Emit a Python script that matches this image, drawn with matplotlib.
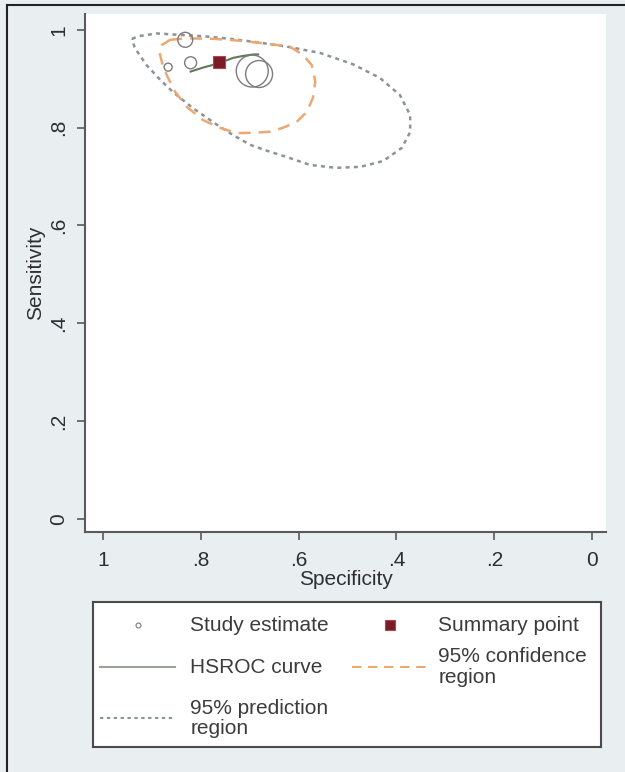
"""HSROC summary plot: study estimates, summary point and 95% regions."""

import matplotlib
matplotlib.use("Agg")
import matplotlib.pyplot as plt
from matplotlib.lines import Line2D

# ── Data ──────────────────────────────────────────────────────────────

study_spec = [0.832, 0.821, 0.867, 0.695, 0.681]
study_sens = [0.980, 0.933, 0.924, 0.916, 0.910]
study_weight = [56, 36, 16, 256, 182]

summary_spec = [0.763]
summary_sens = [0.934]

hsroc_spec = [0.821, 0.796, 0.763, 0.734, 0.714, 0.693, 0.683]
hsroc_sens = [0.915, 0.923, 0.932, 0.943, 0.947, 0.950, 0.950]

conf_spec = [0.863, 0.829, 0.775, 0.720, 0.673, 0.618, 0.591, 0.573, 0.566,
             0.571, 0.583, 0.604, 0.632, 0.658, 0.686, 0.727, 0.761, 0.796,
             0.829, 0.853, 0.870, 0.880, 0.885, 0.880, 0.863]
conf_sens = [0.980, 0.983, 0.982, 0.978, 0.973, 0.966, 0.949, 0.928, 0.894,
             0.861, 0.833, 0.812, 0.800, 0.792, 0.790, 0.789, 0.800, 0.816,
             0.843, 0.874, 0.908, 0.935, 0.956, 0.969, 0.980]

pred_spec = [0.941, 0.924, 0.890, 0.843, 0.791, 0.740, 0.685, 0.618, 0.556,
             0.489, 0.434, 0.393, 0.372, 0.372, 0.389, 0.427, 0.474, 0.524,
             0.577, 0.624, 0.665, 0.699, 0.734, 0.767, 0.816, 0.857, 0.883,
             0.911, 0.935, 0.941]
pred_sens = [0.982, 0.988, 0.993, 0.990, 0.987, 0.982, 0.975, 0.965, 0.953,
             0.930, 0.902, 0.867, 0.826, 0.791, 0.759, 0.732, 0.720, 0.718,
             0.724, 0.740, 0.753, 0.765, 0.785, 0.806, 0.840, 0.873, 0.898,
             0.928, 0.963, 0.982]

tick_values = [0, 0.2, 0.4, 0.6, 0.8, 1]
tick_labels = ["0", ".2", ".4", ".6", ".8", "1"]

legend_labels = ["Study estimate", "Summary point", "HSROC curve",
                 "95% confidence\nregion", "95% prediction\nregion"]

# ── Style ─────────────────────────────────────────────────────────────

BG = "#e9eef0"
TEXT = "#2e2e36"
AXIS = "#5a5a5a"
CIRCLE = "#7c7c7c"
HSROC = "#62795a"
CONF = "#eda872"
PRED = "#8c9299"
SUMMARY = "#7a1b26"
SUMMARY_EDGE = "#b3434f"
FS = 15

plt.rcParams["font.family"] = ["Liberation Sans", "DejaVu Sans"]

fig = plt.figure(figsize=(6.25, 7.72), dpi=100, facecolor=BG)
ax = fig.add_axes([0.136, 0.311, 0.834, 0.671])
ax.set_facecolor("white")

# ── Plot ──────────────────────────────────────────────────────────────

ax.plot(pred_spec, pred_sens, color=PRED, lw=1.8, dashes=[1.6, 1.7],
        solid_capstyle="butt", zorder=2)
ax.plot(conf_spec, conf_sens, color=CONF, lw=1.8, dashes=[4.8, 3.2],
        zorder=3)
ax.plot(hsroc_spec, hsroc_sens, color=HSROC, lw=1.5, zorder=4)
ax.scatter(study_spec, study_sens, s=[w * 2.07 for w in study_weight],
           facecolors="none", edgecolors=CIRCLE, linewidths=1.0, zorder=5)
ax.plot(summary_spec, summary_sens, ls="none", marker="s", ms=8,
        mfc=SUMMARY, mec=SUMMARY_EDGE, mew=0.8, zorder=6)

ax.set_xlim(1.037, -0.029)
ax.set_ylim(-0.027, 1.033)
ax.set_xticks(tick_values, tick_labels)
ax.set_yticks(tick_values, tick_labels)
ax.tick_params(axis="both", direction="out", length=6, width=1.2,
               color=AXIS, labelsize=FS, labelcolor=TEXT, pad=8)
ax.tick_params(axis="y", labelrotation=90, pad=6)
for lab in ax.get_yticklabels():
    lab.set_va("center")

for side in ("top", "right"):
    ax.spines[side].set_visible(False)
for side in ("left", "bottom"):
    ax.spines[side].set_color(AXIS)
    ax.spines[side].set_linewidth(1.5)

ax.set_xlabel("Specificity", fontsize=FS, color=TEXT, labelpad=0)
ax.set_ylabel("Sensitivity", fontsize=FS, color=TEXT, labelpad=3)

# ── Legend (Stata-style box below the plot) ───────────────────────────

lg = fig.add_axes([0.149, 0.032, 0.813, 0.188])
lg.set_xlim(0, 1)
lg.set_ylim(0, 1)
lg.set_xticks([])
lg.set_yticks([])
lg.set_facecolor("white")
for sp in lg.spines.values():
    sp.set_color("#4a4a4a")
    sp.set_linewidth(1.5)

rows = [0.841, 0.552, 0.200]
lg.plot([0.089], [rows[0]], ls="none", marker="o", ms=3.5, mfc="none",
        mec=CIRCLE, mew=0.8)
lg.plot([0.585], [rows[0]], ls="none", marker="s", ms=7, mfc=SUMMARY,
        mec=SUMMARY_EDGE, mew=0.8)
lg.plot([0.014, 0.161], [rows[1]] * 2, color="#9aa496", lw=1.5)
lg.plot([0.510, 0.659], [rows[1]] * 2, color=CONF, lw=1.5, dashes=[4.5, 3.2])
lg.plot([0.014, 0.161], [rows[2]] * 2, color=PRED, lw=1.5, dashes=[1.6, 1.7])

text_pos = [(0.191, rows[0]), (0.679, rows[0]), (0.191, rows[1]),
            (0.679, rows[1]), (0.191, rows[2])]
for (tx, ty), label in zip(text_pos, legend_labels):
    lg.text(tx, ty, label, fontsize=FS, color="#3c3c3c", ha="left",
            va="center", linespacing=1.1)

# Outer frame lines (top and left) of the exported graph
fig.add_artist(Line2D([0.0112, 1.0], [0.9935, 0.9935], color="#222222",
                      lw=1.5, transform=fig.transFigure))
fig.add_artist(Line2D([0.0112, 0.0112], [0.0, 0.9935], color="#222222",
                      lw=1.5, transform=fig.transFigure))

fig.savefig("out.png", dpi=100, facecolor=BG)
